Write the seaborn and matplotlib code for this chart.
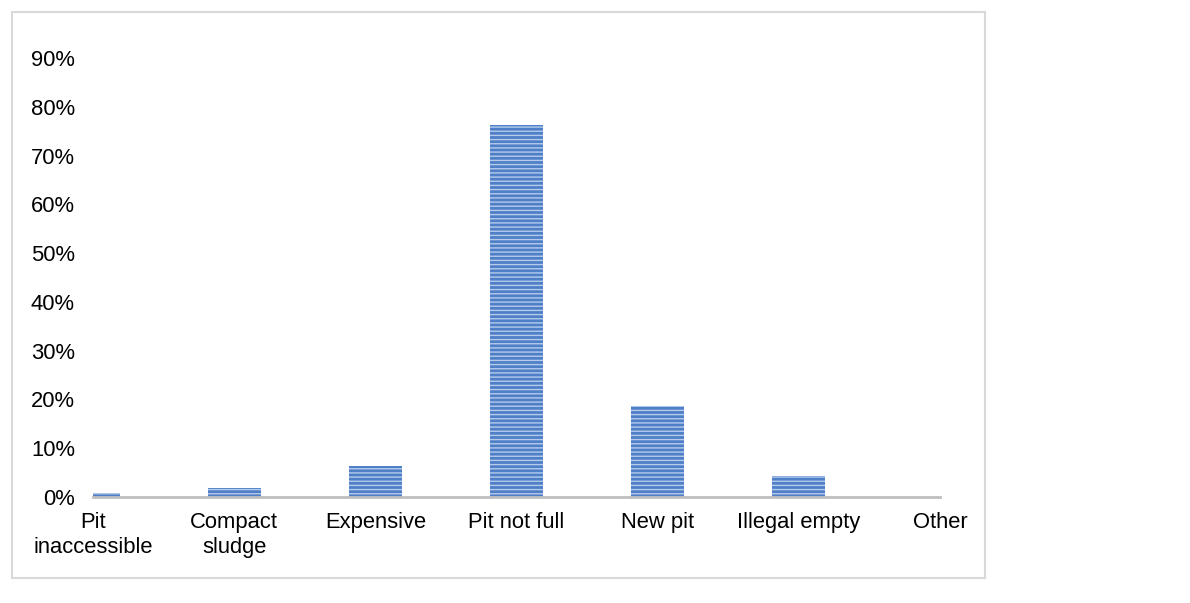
import numpy as np
import pandas as pd
import seaborn as sns
import matplotlib.pyplot as plt
from matplotlib.patches import Rectangle
from matplotlib.ticker import PercentFormatter

# -----------------------------
# data
# -----------------------------
categories = ["Pit\ninaccessible", "Compact\nsludge", "Expensive", "Pit not full",
              "New pit", "Illegal empty", "Other"]
shares = [0.008, 0.019, 0.064, 0.762, 0.186, 0.044, 0.0]
y_ticks = [0, 0.1, 0.2, 0.3, 0.4, 0.5, 0.6, 0.7, 0.8, 0.9]

df = pd.DataFrame({"reason": categories, "share": shares})

sns.set_style("white")
plt.rcParams["font.family"] = ["Liberation Sans", "DejaVu Sans"]
plt.rcParams["hatch.linewidth"] = 1.0

fig = plt.figure(figsize=(11.9, 6.03), dpi=100)
ax = fig.add_axes([93 / 1190, 1 - 497 / 603, (940 - 93) / 1190, (497 - 58) / 603])

sns.barplot(data=df, x="reason", y="share", ax=ax, width=0.376,
            color="#4f7fc6", saturation=1, edgecolor="#b4cbec", linewidth=0)
for bar in ax.patches:
    bar.set_hatch("----")

# axes styling, Excel-like
ax.set_xlim(0, 6)
ax.set_ylim(0, 0.9)
ax.set_yticks(y_ticks)
ax.yaxis.set_major_formatter(PercentFormatter(1.0, decimals=0))
ax.set_xlabel("")
ax.set_ylabel("")
for side in ["top", "right", "left"]:
    ax.spines[side].set_visible(False)
ax.spines["bottom"].set_color("#bfbfbf")
ax.spines["bottom"].set_linewidth(2)
ax.tick_params(axis="both", length=0, labelsize=15.8, colors="black")
ax.tick_params(axis="y", pad=13)
ax.tick_params(axis="x", pad=11)
for lbl in ax.get_xticklabels():
    lbl.set_linespacing(1.25)

# chart frame
fig.patches.append(Rectangle((12 / 1190, 1 - 578 / 603), (985 - 12) / 1190, (578 - 12) / 603,
                             transform=fig.transFigure, fill=False,
                             edgecolor="#d9d9d9", linewidth=1.5))

fig.savefig("out.png", dpi=100)
